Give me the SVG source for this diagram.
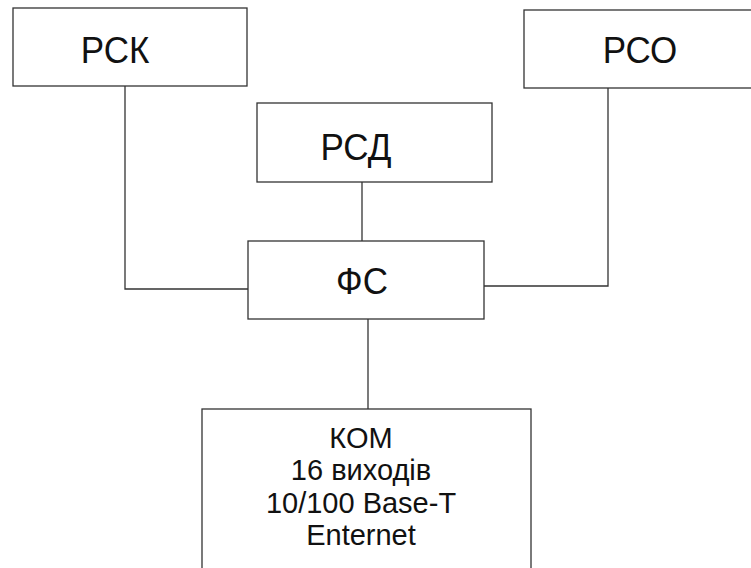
<svg xmlns="http://www.w3.org/2000/svg" width="751" height="568" viewBox="0 0 751 568">
<style>
.box{fill:#fff;stroke:#333;stroke-width:1.3}
.ln{fill:none;stroke:#333;stroke-width:1.3}
.lbl{font-family:"Liberation Sans",Arial,sans-serif;font-size:35px;fill:#111;text-anchor:middle}
.sm{font-family:"Liberation Sans",Arial,sans-serif;font-size:29px;fill:#111;text-anchor:middle}
</style>
<rect width="751" height="568" fill="#fff"/>
<g id="connectors">
<polyline class="ln" points="125,86 125,289 248,289"/>
<line class="ln" x1="362" y1="182" x2="362" y2="241"/>
<polyline class="ln" points="608,88 608,286 484,286"/>
<line class="ln" x1="368" y1="319" x2="368" y2="409"/>
</g>
<g id="rsk">
<rect class="box" x="13" y="8" width="234" height="78"/>
<text class="lbl" transform="translate(115,63) scale(1,1.08)">РСК</text>
</g>
<g id="rso">
<rect class="box" x="524" y="10" width="230" height="78"/>
<text class="lbl" transform="translate(640,63) scale(1,1.08)">РСО</text>
</g>
<g id="rsd">
<rect class="box" x="257" y="103" width="235" height="79"/>
<text class="lbl" transform="translate(356,160) scale(1,1.08)">РСД</text>
</g>
<g id="fs">
<rect class="box" x="248" y="241" width="236" height="78"/>
<text class="lbl" transform="translate(362,294) scale(1,1.08)">ФС</text>
</g>
<g id="kom">
<rect class="box" x="202" y="409" width="329" height="170"/>
<text class="sm" x="361" y="448">КОМ</text>
<text class="sm" x="361" y="480">16 виходів</text>
<text class="sm" x="361" y="513">10/100 Base-T</text>
<text class="sm" x="361" y="545">Enternet</text>
</g>
</svg>
